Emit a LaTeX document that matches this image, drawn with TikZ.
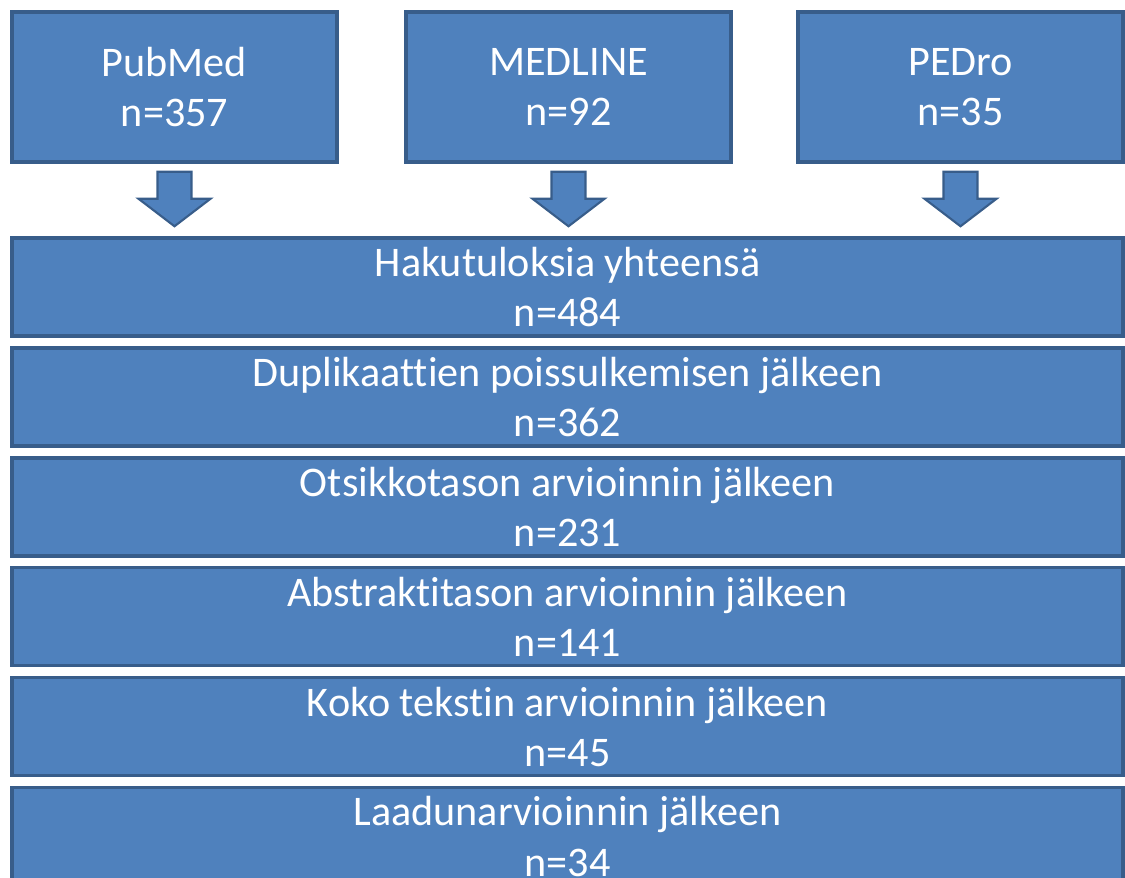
\documentclass[tikz,border=0pt]{standalone}
\usepackage{fontspec}
\setmainfont{Carlito}[Ligatures=NoCommon]
\usetikzlibrary{positioning,calc}
\definecolor{boxblue}{HTML}{4F81BD}
\definecolor{boxedge}{HTML}{385D8A}
\begin{document}
\begin{tikzpicture}[x=0.02cm,y=-0.02cm,
  srcbox/.style={draw=boxedge,fill=boxblue,line width=2pt,minimum width=6.5cm,minimum height=3cm,
    text=white,align=center,font=\fontsize{24}{28.5}\selectfont,inner sep=0pt},
  stagebox/.style={srcbox,minimum width=22.22cm,minimum height=1.96cm},
  blockarrow/.style={draw=boxedge,fill=boxblue,line width=1.2pt,line join=miter},
  node distance=0.168cm]
\useasboundingbox (0,0) rectangle (1125,877);
% sources
\node[srcbox] (pub) at (174.5,87) {PubMed\\n=357};
\node[srcbox] (med) at (568.5,87) {MEDLINE\\n=92};
\node[srcbox] (ped) at (960.5,87) {PEDro\\n=35};
% stages
\node[stagebox] (tot) at (567.5,287) {Hakutuloksia yhteensä\\n=484};
\node[stagebox,below=of tot] (dup) {Duplikaattien poissulkemisen jälkeen\\n=362};
\node[stagebox,below=of dup] (otsikko) {Otsikkotason arvioinnin jälkeen\\n=231};
\node[stagebox,below=of otsikko] (abstr) {Abstraktitason arvioinnin jälkeen\\n=141};
\node[stagebox,below=of abstr] (koko) {Koko tekstin arvioinnin jälkeen\\n=45};
\node[stagebox,below=of koko] (laatu) {Laadunarvioinnin jälkeen\\n=34};
% arrows
\foreach \src in {pub,med,ped}{
  \draw[blockarrow] ($(\src.south)+(-17,8)$) -- ++(34,0) -- ++(0,27) -- ++(19,0)
    -- ($(\src.south |- tot.north)+(0,-10)$) -- ($(\src.south)+(-36,35)$) -- ++(19,0) -- cycle;
}
\end{tikzpicture}
\end{document}
